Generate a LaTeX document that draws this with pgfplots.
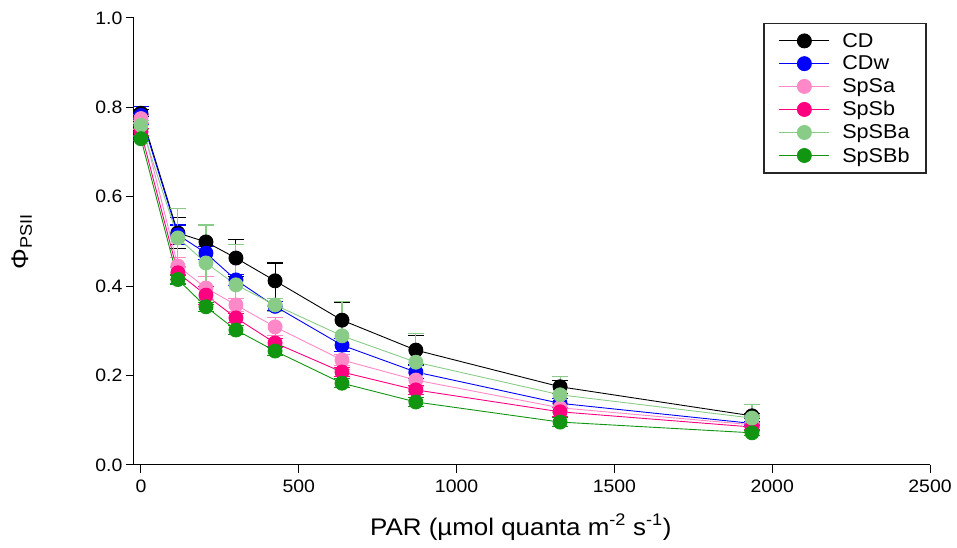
\documentclass[border=0pt]{standalone}
\usepackage{fontspec}
\setmainfont{Liberation Sans}[FakeStretch=1.08]
\usepackage{pgfplots}
\usepackage{pgfplotstable}
\pgfplotsset{compat=1.18}
\definecolor{cdw}{RGB}{0,0,255}
\definecolor{spsa}{RGB}{255,136,200}
\definecolor{spsb}{RGB}{255,0,128}
\definecolor{spsba}{RGB}{136,204,136}
\definecolor{spsbb}{RGB}{18,150,18}

\pgfplotstableread{
x y e
0 0.787 0.008
117 0.519 0.035
206 0.499 0.040
301 0.463 0.042
425 0.412 0.040
637 0.324 0.040
871 0.257 0.033
1328 0.175 0.015
1936 0.110 0.005
}\CD
\pgfplotstableread{
x y e
0 0.782 0.020
117 0.515 0.022
206 0.474 0.015
301 0.414 0.012
425 0.355 0.010
637 0.268 0.015
871 0.208 0.015
1328 0.138 0.010
1936 0.093 0.005
}\CDw
\pgfplotstableread{
x y e
0 0.775 0.010
117 0.445 0.020
206 0.396 0.025
301 0.358 0.015
425 0.309 0.020
637 0.235 0.012
871 0.190 0.015
1328 0.128 0.010
1936 0.090 0.005
}\SpSa
\pgfplotstableread{
x y e
0 0.745 0.008
117 0.430 0.015
206 0.380 0.020
301 0.329 0.010
425 0.273 0.010
637 0.208 0.010
871 0.168 0.010
1328 0.119 0.010
1936 0.085 0.005
}\SpSb
\pgfplotstableread{
x y e
0 0.760 0.010
117 0.508 0.065
206 0.452 0.085
301 0.403 0.090
425 0.358 0.015
637 0.289 0.076
871 0.230 0.065
1328 0.157 0.040
1936 0.105 0.030
}\SpSBa
\pgfplotstableread{
x y e
0 0.730 0.005
117 0.415 0.010
206 0.354 0.010
301 0.302 0.010
425 0.255 0.010
637 0.183 0.010
871 0.141 0.010
1328 0.096 0.010
1936 0.072 0.005
}\SpSBb

\pgfplotsset{
  ser/.style={color=#1, mark options={fill=#1, draw=#1},
    error bars/error bar style={draw=#1, line width=1.1pt},
    error bars/error mark options={rotate=90, mark size=8pt, line width=1.1pt, draw=#1}},
}

\begin{document}
\begin{tikzpicture}
\useasboundingbox (-134pt,-83pt) rectangle (823pt,465pt);
\begin{axis}[
  at={(0pt,0pt)}, anchor=south west,
  scale only axis, width=796pt, height=447pt,
  xmin=-22, xmax=2500, ymin=0, ymax=1,
  axis x line*=bottom, axis y line*=left,
  axis line style={line width=1pt, -},
  tick align=outside, major tick length=8pt,
  tick style={line width=1pt, black},
  xtick={0,500,1000,1500,2000,2500},
  ytick={0,0.2,0.4,0.6,0.8,1.0},
  scaled x ticks=false,
  /pgf/number format/assume math mode=true,
  xticklabel style={/pgf/number format/1000 sep={}, font=\fontsize{18}{18}\selectfont, yshift=-3pt},
  yticklabel style={/pgf/number format/.cd, fixed, fixed zerofill, precision=1, /tikz/.cd, font=\fontsize{18}{18}\selectfont},
  xlabel={PAR (µmol quanta m\textsuperscript{-2} s\textsuperscript{-1})},
  ylabel={Φ\textsubscript{PSII}},
  xlabel style={font=\fontsize{24}{24}\selectfont, at={(axis description cs:0.486,-0.139)}, anchor=center},
  ylabel style={font=\fontsize{24}{24}\selectfont, at={(axis description cs:-0.141,0.5)}, anchor=center, rotate=0},
  clip=false,
  legend style={at={(0.996,0.989)}, anchor=north east, draw=black!85, line width=1.5pt,
    font=\fontsize{20}{22}\selectfont, inner xsep=15pt, inner ysep=8pt,
    nodes={inner sep=1.5pt}, row sep=4.3pt,
    /tikz/every odd column/.append style={column sep=11pt}},
  legend cell align=left,
  legend image code/.code={\draw[mark repeat=2,mark phase=2, line width=0.9pt] plot coordinates {(0pt,0pt) (25pt,0pt) (50pt,0pt)};},
  every axis plot/.append style={line width=0.9pt, mark=*, mark size=7pt,
    error bars/y dir=both, error bars/y explicit, error bars/error mark=-},
]
\addplot[ser=black] table[x=x,y=y,y error=e] {\CD};
\addlegendentry{CD}
\addplot[ser=cdw] table[x=x,y=y,y error=e] {\CDw};
\addlegendentry{CDw}
\addplot[ser=spsa] table[x=x,y=y,y error=e] {\SpSa};
\addlegendentry{SpSa}
\addplot[ser=spsb] table[x=x,y=y,y error=e] {\SpSb};
\addlegendentry{SpSb}
\addplot[ser=spsba] table[x=x,y=y,y error=e] {\SpSBa};
\addlegendentry{SpSBa}
\addplot[ser=spsbb] table[x=x,y=y,y error=e] {\SpSBb};
\addlegendentry{SpSBb}
\end{axis}
\end{tikzpicture}
\end{document}
